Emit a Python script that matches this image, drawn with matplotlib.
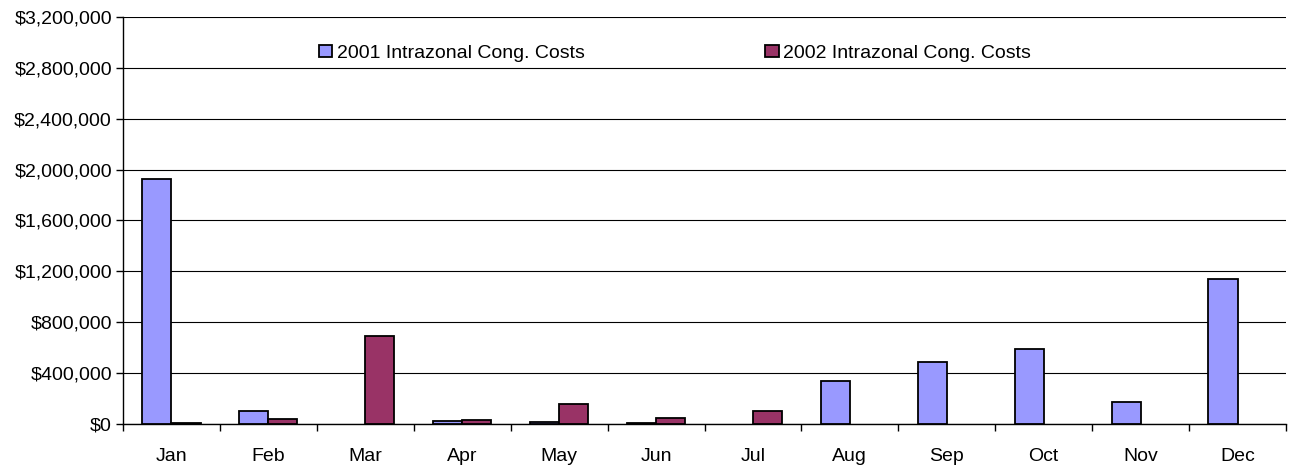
import matplotlib
matplotlib.use("Agg")
import matplotlib.pyplot as plt
import numpy as np
from matplotlib.ticker import FuncFormatter, MultipleLocator

months = ["Jan", "Feb", "Mar", "Apr", "May", "Jun", "Jul", "Aug", "Sep", "Oct", "Nov", "Dec"]
costs_2001 = [1930000, 100000, 0, 24000, 19000, 8000, 0, 338000, 487000, 590000, 173000, 1140000]
costs_2002 = [8000, 42000, 692000, 35000, 160000, 50000, 100000, 0, 0, 0, 0, 0]
labels = ["2001 Intrazonal Cong. Costs", "2002 Intrazonal Cong. Costs"]

plt.rcParams['font.family'] = ['Liberation Sans', 'DejaVu Sans']
fig = plt.figure(figsize=(12.96, 4.66), dpi=100)
ax = fig.add_axes([123/1296, 42/466, (1286-123)/1296, (424-17)/466])

x = np.arange(len(months))
w = 0.3
v1 = np.array(costs_2001, dtype=float)
v2 = np.array(costs_2002, dtype=float)
v1[v1 == 0] = np.nan
v2[v2 == 0] = np.nan
ax.bar(x - w/2, v1, w, color="#9999FF", edgecolor="black", linewidth=1.3, label=labels[0], zorder=3)
ax.bar(x + w/2, v2, w, color="#993366", edgecolor="black", linewidth=1.3, label=labels[1], zorder=3)

ax.set_xlim(-0.5, 11.5)
ax.set_ylim(0, 3200000)
ax.yaxis.set_major_locator(MultipleLocator(400000))
ax.yaxis.set_major_formatter(FuncFormatter(lambda v, p: "${:,.0f}".format(v)))
ax.grid(axis="y", color="black", linewidth=0.8, zorder=0)

ax.set_xticks(x)
ax.set_xticklabels(months)
ax.tick_params(axis="x", which="major", length=0, labelsize=14, pad=17)
ax.set_xticks(np.arange(-0.5, 12, 1), minor=True)
ax.tick_params(axis="x", which="minor", length=5, width=1, direction="out")
ax.tick_params(axis="y", length=5, width=1, direction="out", labelsize=14, pad=3)

for s in ["top", "right"]:
    ax.spines[s].set_visible(False)
for s in ["left", "bottom"]:
    ax.spines[s].set_linewidth(1)

leg = ax.legend(loc="center", bbox_to_anchor=(0.4746, 0.9115), ncol=2, frameon=False,
                fontsize=14, handlelength=0.68, handleheight=0.6, handletextpad=0.25,
                columnspacing=9.3, borderpad=0, borderaxespad=0)

fig.savefig("out.png", dpi=100)
